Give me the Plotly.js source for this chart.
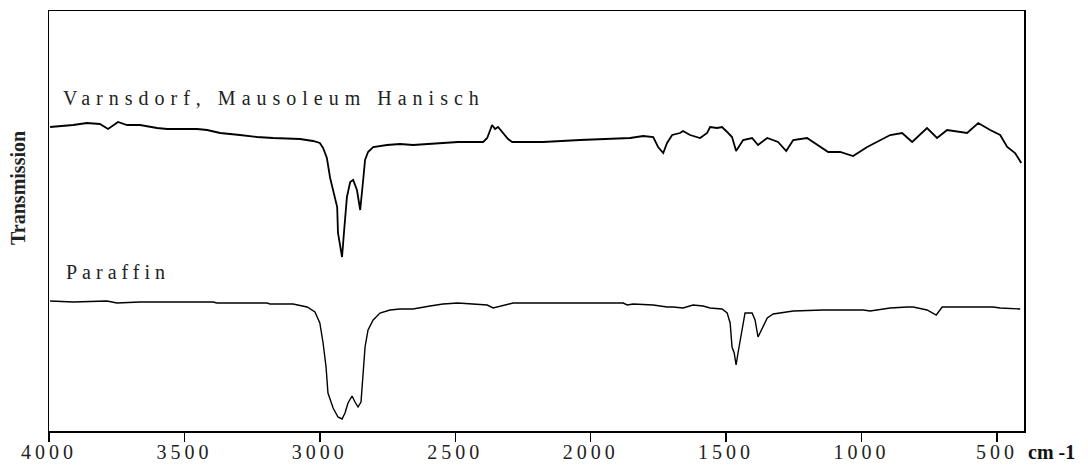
<!DOCTYPE html>
<html>
<head>
<meta charset="utf-8">
<script src="https://cdn.plot.ly/plotly-3.0.1.min.js"></script>
<style>
  html, body { margin: 0; padding: 0; background: #fff; }
  #chart { width: 1088px; height: 468px; }
</style>
</head>
<body>
<div id="chart"></div>
<script>
// IR transmission spectra, wavenumber in cm-1 (axis runs high to low)
const varnsdorfWn = [
  3996, 3911, 3860, 3812, 3782, 3745, 3712, 3664, 3601, 3564, 3505, 3453, 3416, 3368,
  3295, 3232, 3173, 3073, 3025, 3000, 2988, 2974, 2962, 2951, 2936, 2933, 2918, 2911,
  2900, 2888, 2877, 2863, 2851, 2840, 2833, 2822, 2803, 2752, 2704, 2656, 2530, 2490,
  2397, 2382, 2364, 2353, 2342, 2323, 2305, 2290, 2176, 2039, 1917, 1854, 1806, 1769,
  1751, 1732, 1718, 1699, 1670, 1659, 1633, 1596, 1570, 1559, 1533, 1515, 1496, 1478,
  1463, 1437, 1404, 1382, 1348, 1308, 1278, 1252, 1201, 1164, 1123, 1079, 1031, 979,
  931, 894, 850, 813, 758, 721, 684, 636, 610, 569, 525, 488, 462, 433, 410
];
const varnsdorfT = [
  304, 306, 308, 307, 302, 309, 306, 306, 303, 302, 302, 302, 301, 298,
  296, 294, 293, 292, 290, 288, 283, 273, 253, 241, 224, 198, 174, 198,
  234, 249, 251, 241, 221, 251, 271, 279, 284, 286, 287, 286, 288, 289,
  289, 293, 306, 302, 304, 298, 292, 289, 289, 291, 292, 293, 295, 294,
  284, 278, 288, 296, 298, 300, 296, 293, 298, 304, 303, 304, 299, 294,
  280, 291, 293, 286, 293, 289, 280, 291, 293, 286, 279, 279, 275, 284,
  291, 296, 298, 289, 303, 293, 301, 299, 298, 308, 301, 296, 284, 278, 268
];

const paraffinWn = [
  3996, 3911, 3786, 3749, 3664, 3579, 3394, 3380, 3195, 3184, 3099, 3047, 3018, 3000,
  2988, 2977, 2970, 2951, 2933, 2918, 2907, 2896, 2881, 2870, 2859, 2848, 2840, 2833,
  2822, 2803, 2778, 2741, 2704, 2656, 2593, 2545, 2490, 2419, 2382, 2360, 2327, 2286,
  1880, 1865, 1843, 1769, 1718, 1696, 1659, 1622, 1585, 1559, 1515, 1496, 1485, 1478,
  1470, 1463, 1456, 1441, 1430, 1404, 1393, 1382, 1367, 1348, 1326, 1275, 1252, 1142,
  994, 968, 894, 831, 809, 758, 735, 724, 702, 514, 488, 414
];
const paraffinT = [
  130, 129, 130, 128, 129, 129, 129, 128, 128, 127, 127, 124, 119, 108,
  88, 64, 38, 23, 14, 12, 18, 28, 35, 29, 24, 29, 54, 84,
  101, 111, 118, 121, 122, 122, 125, 127, 128, 127, 126, 123, 125, 128,
  128, 126, 127, 126, 124, 124, 123, 126, 125, 123, 122, 118, 108, 84,
  78, 66, 78, 101, 118, 118, 111, 94, 103, 113, 117, 119, 120, 121,
  121, 120, 123, 124, 124, 121, 118, 116, 124, 124, 123, 122
];

const seriesNames = ['Varnsdorf, Mausoleum Hanisch', 'Paraffin'];
const tickValues = [4000, 3500, 3000, 2500, 2000, 1500, 1000, 500];
const tickLabels = ['4000', '3500', '3000', '2500', '2000', '1500', '1000', '500'];
const yTitle = 'Transmission';
const xUnit = 'cm -1';

const serif = 'Liberation Serif, Times New Roman, serif';
const spaced = (s, px) => '<span style="letter-spacing:' + px + 'px">' + s + '</span>';

const traces = [
  { x: varnsdorfWn, y: varnsdorfT, name: seriesNames[0], mode: 'lines',
    line: { color: '#000', width: 1.8 }, hoverinfo: 'x+y' },
  { x: paraffinWn, y: paraffinT, name: seriesNames[1], mode: 'lines',
    line: { color: '#000', width: 1.4 }, hoverinfo: 'x+y' }
];

const layout = {
  width: 1088, height: 468,
  margin: { l: 49, r: 64, t: 11, b: 37 },
  paper_bgcolor: '#fff', plot_bgcolor: '#fff',
  showlegend: false,
  xaxis: {
    range: [4000, 400], autorange: false,
    tickmode: 'array', tickvals: tickValues,
    ticktext: tickLabels.map(t => spaced(t, 4)),
    ticks: 'outside', ticklen: 9, tickwidth: 1.5, tickcolor: '#000',
    ticklabelstandoff: -7,
    showline: true, linecolor: '#000', linewidth: 1.5, mirror: true,
    showgrid: false, zeroline: false,
    tickfont: { family: serif, size: 20, color: '#222' }
  },
  yaxis: {
    range: [0, 420], autorange: false,
    showticklabels: false, ticks: '',
    showline: true, linecolor: '#000', linewidth: 1.5, mirror: true,
    showgrid: false, zeroline: false
  },
  annotations: [
    { text: spaced(seriesNames[0], 6), xref: 'paper', yref: 'paper',
      x: (61 - 49) / 975, y: (431 - 98) / 420, xanchor: 'left', yanchor: 'middle',
      align: 'left', showarrow: false,
      font: { family: serif, size: 20, color: '#222' } },
    { text: spaced(seriesNames[1], 5), xref: 'paper', yref: 'paper',
      x: (64 - 49) / 975, y: (431 - 272) / 420, xanchor: 'left', yanchor: 'middle',
      align: 'left', showarrow: false,
      font: { family: serif, size: 20, color: '#222' } },
    { text: '<b>' + yTitle + '</b>', xref: 'paper', yref: 'paper',
      x: (18 - 49) / 975, y: (431 - 188) / 420, xanchor: 'center', yanchor: 'middle',
      textangle: -90, showarrow: false,
      font: { family: serif, size: 20, color: '#222' } },
    { text: '<b>' + xUnit + '</b>', xref: 'paper', yref: 'paper',
      x: (1026 - 49) / 975, y: -(452 - 431) / 420, xanchor: 'left', yanchor: 'middle',
      showarrow: false,
      font: { family: serif, size: 20, color: '#111' } }
  ]
};

Plotly.newPlot('chart', traces, layout, { displayModeBar: false, staticPlot: true });
</script>
</body>
</html>
